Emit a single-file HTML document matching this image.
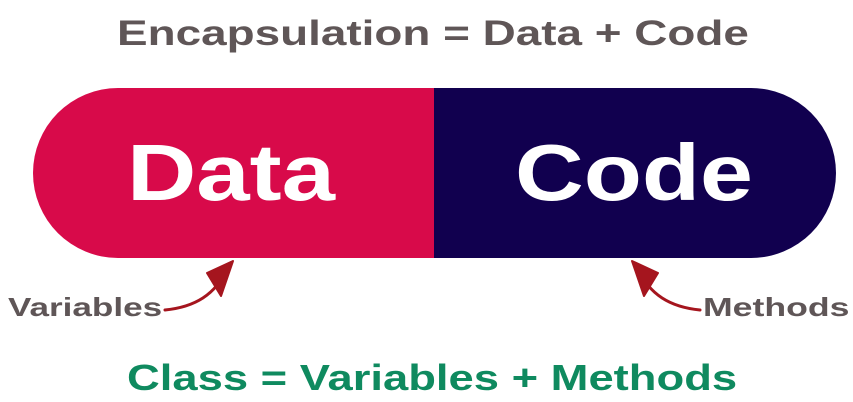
<!DOCTYPE html>
<html><head><meta charset="utf-8"><style>
html,body{margin:0;padding:0;background:#fff;}
body{width:853px;height:402px;position:relative;overflow:hidden;font-family:"Liberation Sans",sans-serif;font-weight:bold;}
.t{position:absolute;white-space:nowrap;}
</style></head><body>
<div class="t" style="left:117px;top:14px;font-size:35px;color:#5f5657;transform:scaleX(1.31);transform-origin:0 0;">Encapsulation = Data + Code</div>
<svg width="853" height="402" style="position:absolute;left:0;top:0">
<path d="M118,88 H434 V258 H118 A85,85 0 0 1 118,88 Z" fill="#d80a4a"/>
<path d="M434,88 H751 A85,85 0 0 1 751,258 H434 Z" fill="#11004f"/>
<text x="0" y="200" text-anchor="middle" font-family="Liberation Sans" font-weight="bold" font-size="80" fill="#fff" transform="translate(231,0) scale(1.2,1)">Data</text>
<text x="0" y="200" text-anchor="middle" font-family="Liberation Sans" font-weight="bold" font-size="80" fill="#fff" transform="translate(634,0) scale(1.19,1)">Code</text>
<g fill="none" stroke="#a5151e" stroke-linecap="round">
<path d="M165,310 C195,307 215,295 228,268" stroke-width="3"/>
<path d="M207,273 L233,261 L221,296 Z" fill="#a5151e" stroke-width="2" stroke-linejoin="round"/>
</g>
<g fill="none" stroke="#a5151e" stroke-linecap="round">
<path d="M700,310 C670,307 650,295 637,268" stroke-width="3"/>
<path d="M658,273 L632,261 L644,296 Z" fill="#a5151e" stroke-width="2" stroke-linejoin="round"/>
</g>
</svg>
<div class="t" style="left:8px;top:292px;font-size:26px;color:#5f5657;transform:scaleX(1.35);transform-origin:0 0;">Variables</div>
<div class="t" style="left:703px;top:292px;font-size:26px;color:#5f5657;transform:scaleX(1.37);transform-origin:0 0;">Methods</div>
<div class="t" style="left:127px;top:357px;font-size:36px;color:#0f8a5f;transform:scaleX(1.26);transform-origin:0 0;">Class = Variables + Methods</div>
</body></html>
